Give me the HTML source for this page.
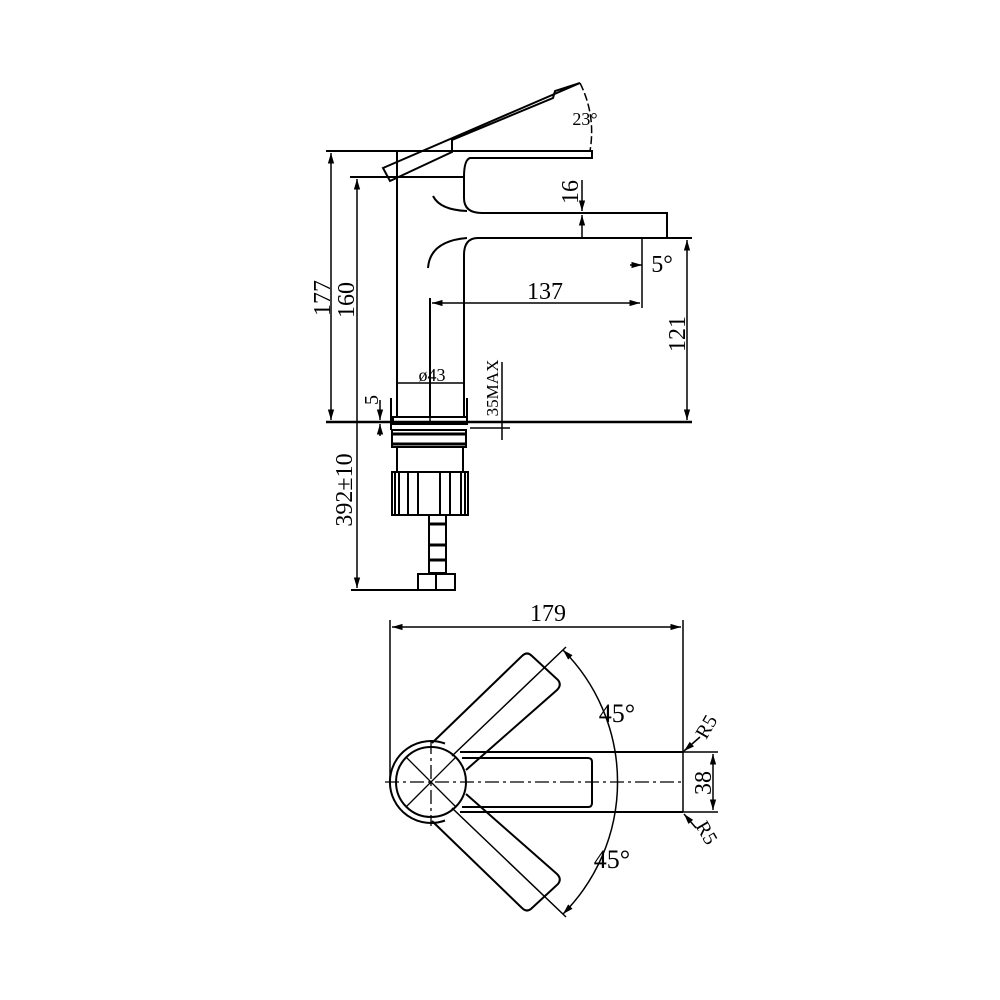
<!DOCTYPE html>
<html><head><style>html,body{margin:0;padding:0;background:#fff}svg{display:block}</style></head>
<body>
<svg width="1000" height="1000" viewBox="0 0 1000 1000" xmlns="http://www.w3.org/2000/svg" font-family="Liberation Serif, serif" fill="none" stroke="#000" stroke-width="2">
<defs><marker id="a" viewBox="0 0 10 10" refX="10" refY="5" markerWidth="7" markerHeight="7" orient="auto-start-reverse"><path d="M0,2 L10,5 L0,8z" fill="#000" stroke="none"/></marker></defs>
<line x1="326" y1="151" x2="593" y2="151"/>
<line x1="331" y1="153" x2="331" y2="420" marker-start="url(#a)" marker-end="url(#a)" stroke-width="1.5"/>
<line x1="326" y1="422" x2="692" y2="422" stroke-width="2.5"/>
<line x1="350" y1="177" x2="464" y2="177"/>
<line x1="357" y1="179" x2="357" y2="588" stroke-width="1.5" marker-start="url(#a)" marker-end="url(#a)"/>
<line x1="397" y1="183" x2="397" y2="416"/>
<path d="M464,177 L464,198 Q464,213 482,213 L667,213 L667,237"/>
<path d="M433,196 Q440,210 467,211"/>
<path d="M642,238 L478,238 Q464,238 464,255 L464,416"/>
<path d="M428,268 Q430,241 467,238"/>
<line x1="430" y1="298" x2="430" y2="416"/>
<line x1="642" y1="238" x2="692" y2="238"/>
<line x1="642" y1="238" x2="642" y2="308" stroke-width="1.5"/>
<line x1="432" y1="303" x2="640" y2="303" stroke-width="1.5" marker-start="url(#a)" marker-end="url(#a)"/>
<line x1="687" y1="240" x2="687" y2="420" stroke-width="1.5" marker-start="url(#a)" marker-end="url(#a)"/>
<line x1="582" y1="180" x2="582" y2="211" stroke-width="1.5" marker-end="url(#a)"/>
<line x1="582" y1="238" x2="582" y2="215" stroke-width="1.5" marker-end="url(#a)"/>
<line x1="630" y1="265" x2="642" y2="265" stroke-width="1.5" marker-end="url(#a)"/>
<path d="M397,151 L397,183"/>
<path d="M592,151 L592,158 L470,158 Q464,160 464,177"/>
<path d="M383,168 L580,83 L555,91 L553,98 L452,140 L452,152 L390,181 Z"/>
<path d="M580,83 Q596,115 590,151" stroke-width="1.5" stroke-dasharray="8,3"/>
<line x1="397" y1="383" x2="464" y2="383" stroke-width="1.5"/>
<line x1="430" y1="410" x2="430" y2="422" stroke-width="1.5"/>
<line x1="502" y1="362" x2="502" y2="440" stroke-width="1.5"/>
<line x1="467" y1="398" x2="467" y2="422"/>
<line x1="391" y1="398" x2="391" y2="430"/>
<line x1="380" y1="400" x2="380" y2="420" stroke-width="1.5" marker-end="url(#a)"/>
<line x1="380" y1="436" x2="380" y2="424" stroke-width="1.5" marker-end="url(#a)"/>
<line x1="470" y1="428" x2="510" y2="428" stroke-width="1.5"/>
<rect x="393" y="417" width="74" height="7"/>
<rect x="392" y="430" width="74" height="17"/>
<line x1="392" y1="434" x2="466" y2="434" stroke-width="3"/>
<line x1="392" y1="444" x2="466" y2="444" stroke-width="3"/>
<line x1="397" y1="447" x2="397" y2="472"/>
<line x1="463" y1="447" x2="463" y2="472"/>
<rect x="392" y="472" width="76" height="43"/>
<rect x="395" y="472" width="4" height="43"/>
<rect x="408" y="472" width="10" height="43"/>
<rect x="440" y="472" width="10" height="43"/>
<rect x="461" y="472" width="4" height="43"/>
<rect x="429" y="515" width="17" height="58"/>
<line x1="429" y1="524" x2="446" y2="524" stroke-width="3"/>
<line x1="429" y1="545" x2="446" y2="545" stroke-width="3"/>
<line x1="429" y1="560" x2="446" y2="560" stroke-width="3"/>
<rect x="418" y="574" width="37" height="16"/>
<line x1="436" y1="574" x2="436" y2="590"/>
<line x1="351" y1="590" x2="455" y2="590"/>
<line x1="392" y1="627" x2="681" y2="627" stroke-width="1.5" marker-start="url(#a)" marker-end="url(#a)"/>
<line x1="390" y1="620" x2="390" y2="780" stroke-width="1.5"/>
<line x1="683" y1="620" x2="683" y2="812" stroke-width="1.5"/>
<path d="M445,743.5 A41,41 0 1 0 445,820.5"/>
<circle cx="431" cy="782" r="35"/>
<path d="M460,752 L683,752 M460,812 L683,812"/>
<path d="M462,758 L588,758 Q592,758 592,762 L592,803 Q592,807 588,807 L462,807"/>
<path d="M385,782 L683,782 M431,740 L431,826" stroke-width="1.3" stroke-dasharray="14,4,3,4"/>
<path d="M406,757 L456,807 M406,807 L456,757" stroke-width="1.3"/>
<path d="M432,743 L522,656 Q527,651 532,656 L558,680 Q562,685 557,690 L466,770"/>
<path d="M432,821 L522,908 Q527,913 532,908 L558,884 Q562,879 557,874 L466,794"/>
<path d="M452,756 L566,647 M452,808 L566,917" stroke-width="1.5"/>
<path d="M563,650 A187,187 0 0 1 563,914" stroke-width="1.5" marker-start="url(#a)" marker-end="url(#a)"/>
<line x1="683" y1="752" x2="718" y2="752" stroke-width="1.5"/>
<line x1="683" y1="812" x2="718" y2="812" stroke-width="1.5"/>
<line x1="713" y1="754" x2="713" y2="810" stroke-width="1.5" marker-start="url(#a)" marker-end="url(#a)"/>
<line x1="700" y1="737" x2="684" y2="751" stroke-width="1.5" marker-end="url(#a)"/>
<line x1="696" y1="828" x2="684" y2="814" stroke-width="1.5" marker-end="url(#a)"/>
<g fill="#000" stroke="none" font-size="24">
<text x="585" y="125" font-size="18" text-anchor="middle">23°</text>
<text transform="translate(330,298) rotate(-90)" text-anchor="middle">177</text>
<text transform="translate(354,300) rotate(-90)" text-anchor="middle">160</text>
<text transform="translate(578,192) rotate(-90)" text-anchor="middle">16</text>
<text x="662" y="272" text-anchor="middle">5°</text>
<text x="545" y="299" text-anchor="middle">137</text>
<text transform="translate(685,334) rotate(-90)" text-anchor="middle">121</text>
<text x="432" y="381" font-size="18" text-anchor="middle">ø43</text>
<text transform="translate(498,388) rotate(-90)" font-size="17" text-anchor="middle">35MAX</text>
<text transform="translate(378,400) rotate(-90)" font-size="20" text-anchor="middle">5</text>
<text transform="translate(352,490) rotate(-90)" text-anchor="middle">392±10</text>
<text x="548" y="621" text-anchor="middle">179</text>
<text x="617" y="722" font-size="26" text-anchor="middle">45°</text>
<text x="612" y="868" font-size="26" text-anchor="middle">45°</text>
<text transform="translate(711,783) rotate(-90)" text-anchor="middle">38</text>
<text transform="translate(712,730) rotate(-60)" font-size="20" text-anchor="middle">R5</text>
<text transform="translate(701,836) rotate(60)" font-size="20" text-anchor="middle">R5</text>
</g>
</svg>
</body></html>
